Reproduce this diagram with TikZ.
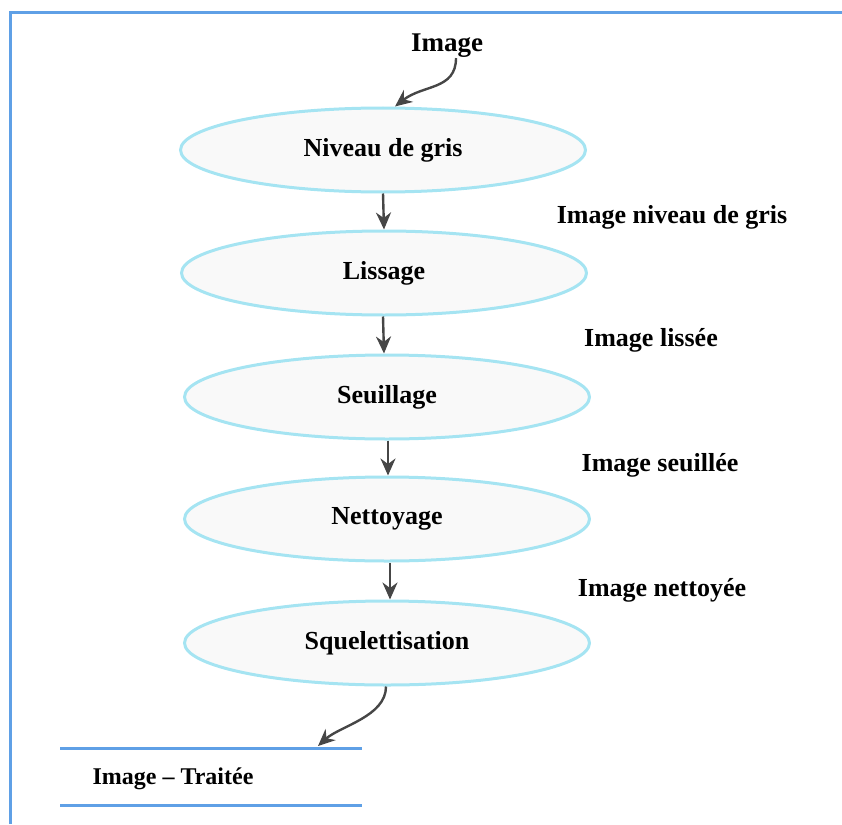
\documentclass[tikz,border=0pt]{standalone}
\usepackage{fontspec}
\setmainfont{Liberation Serif}
\usetikzlibrary{arrows.meta,shapes.geometric}
\definecolor{frameblue}{RGB}{95,160,230}
\definecolor{ellline}{RGB}{165,228,242}
\definecolor{ellfill}{RGB}{249,249,249}
\definecolor{arrowgray}{RGB}{70,70,70}
\begin{document}
\begin{tikzpicture}[x=1pt,y=-1pt,
  stage/.style={draw=ellline,fill=ellfill,line width=3pt,ellipse,minimum width=405pt,minimum height=84pt,inner sep=0pt,font=\fontsize{26}{30}\selectfont\bfseries},
  datalabel/.style={font=\fontsize{26}{30}\selectfont\bfseries,inner sep=0pt},
  flow/.style={draw=arrowgray,line width=2.4pt,-{Stealth[length=17pt,width=15pt]}},
  rule/.style={draw=frameblue,line width=3pt}]
\useasboundingbox (0,0) rectangle (842,824);
% frame (top and left edges)
\draw[rule] (10,824) -- (10,13) -- (842,13);

% processing stages
\node[stage] (gris) at (383,150) {Niveau de gris};
\node[stage] (liss) at (384,273) {Lissage};
\node[stage] (seuil) at (387,397) {Seuillage};
\node[stage] (net) at (387,519) {Nettoyage};
\node[stage] (sq) at (387,643) {Squelettisation};

% input / output texts
\node[datalabel,font=\fontsize{27}{30}\selectfont\bfseries] (in) at (447,46) {Image};
\node[datalabel] (l1) at (672,217) {Image niveau de gris};
\node[datalabel] (l2) at (651,340) {Image lissée};
\node[datalabel] (l3) at (660,465) {Image seuillée};
\node[datalabel] (l4) at (662,590) {Image nettoyée};
\node[datalabel,font=\fontsize{24}{28}\selectfont\bfseries] (out) at (173,779) {Image -- Traitée};

% output box rules
\coordinate (r1a) at (60,748);
\coordinate (r1b) at (362,748);
\coordinate (r2a) at (60,805);
\coordinate (r2b) at (362,805);
\draw[rule] (r1a) -- (r1b);
\draw[rule] (r2a) -- (r2b);

% connectors
\draw[flow] ([xshift=9pt]in.south) .. controls +(0,32) and +(28,-22) .. ([xshift=12pt]gris.north);
\draw[flow] ([xshift=0pt]gris.south) -- ([xshift=0pt]liss.north);
\draw[flow] ([xshift=-1pt]liss.south) -- ([xshift=-3pt]seuil.north);
\draw[flow] ([xshift=1pt]seuil.south) -- ([xshift=1pt]net.north);
\draw[flow] ([xshift=3pt]net.south) -- ([xshift=3pt]sq.north);
\coordinate (outtip) at (318,746);
\draw[flow] ([xshift=-1pt]sq.south) .. controls +(0,30) and +(22,-20) .. (outtip);
\end{tikzpicture}
\end{document}
